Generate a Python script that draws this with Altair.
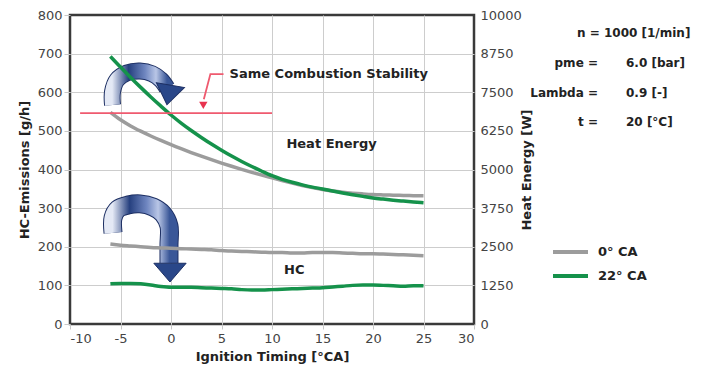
import altair as alt
import pandas as pd

# ---------------- data ----------------
timing = list(range(-6, 26))
heat_0ca = [6850, 6610, 6410, 6240, 6085, 5940, 5802, 5672, 5548, 5430, 5317, 5209,
            5105, 5005, 4909, 4817, 4730, 4642, 4560, 4484, 4414, 4350, 4302, 4264,
            4234, 4210, 4190, 4178, 4168, 4160, 4154, 4150]
heat_22ca = [8660, 8315, 7980, 7658, 7348, 7050, 6763, 6503, 6263, 6038, 5824, 5625,
             5435, 5260, 5097, 4943, 4800, 4682, 4586, 4502, 4430, 4370, 4304, 4242,
             4185, 4131, 4080, 4042, 4008, 3978, 3950, 3925]
hc_0ca = [207, 204, 202, 200, 198, 197, 196, 195, 194, 193, 192, 190, 189, 188, 187, 186,
          185, 185, 184, 184, 185, 185, 185, 184, 183, 182, 182, 181, 180, 179, 178, 177]
hc_22ca = [104, 105, 105, 104, 101, 97, 95, 95, 95, 94, 93, 92, 91, 89, 88, 88,
           89, 90, 91, 92, 93, 94, 96, 98, 100, 101, 101, 100, 99, 98, 99, 99]

series_names = ["0° CA", "22° CA"]
series_colors = ["#9c9c9c", "#15924b"]

x_ticks = list(range(-10, 31, 5))
hc_ticks = list(range(0, 801, 100))
heat_ticks = list(range(0, 10001, 1250))

# annotations (data units of the left axis)
stab_x = [-9, 10]
stab_y = [546, 546]
callout_x = [5.2, 3.9, 3.25]
callout_y = [647, 647, 582]
callout_head_x = [3.2]
callout_head_y = [566]
stab_label = "Same Combustion Stability"
stab_label_x = [5.8]
stab_label_y = [648]
heat_label = "Heat Energy"
heat_label_x = [15.9]
heat_label_y = [466]
hc_label = "HC"
hc_label_x = [12.2]
hc_label_y = [140]

arrow1_x = [-5.79, -5.79, -5.35, -4.36, -3.07, -1.88, -0.99, -0.40]
arrow1_y = [567, 601, 632, 650, 655, 648, 632, 611]
arrow1_head_x = [-0.23]
arrow1_head_y = [593]
arrow2_x = [-5.74, -5.74, -5.25, -4.26, -3.07, -1.78, -0.79, -0.2, -0.2, -0.2]
arrow2_y = [236, 275, 298, 308, 311, 303, 285, 254, 205, 158]
arrow2_head_x = [-0.1]
arrow2_head_y = [133]

param_names = ["pme =", "Lambda =", "t ="]
param_values = ["6.0 [bar]", "0.9 [-]", "20 [°C]"]
speed_text = "n = 1000 [1/min]"

# ---------------- tables ----------------
n = len(timing)
heat_df = pd.DataFrame({"x": timing * 2, "v": heat_0ca + heat_22ca,
                        "s": [series_names[0]] * n + [series_names[1]] * n})
hc_df = pd.DataFrame({"x": timing * 2, "v": hc_0ca + hc_22ca,
                      "s": [series_names[0]] * n + [series_names[1]] * n})

W, H = 404, 309
FONT = "DejaVu Sans"
GRID = "#cdcdcd"
xs = alt.Scale(domain=[-10, 30], nice=False, zero=False)
ys_hc = alt.Scale(domain=[0, 800], nice=False)
ys_heat = alt.Scale(domain=[0, 10000], nice=False)
cscale = alt.Scale(domain=series_names, range=series_colors)

x_axis = alt.Axis(values=x_ticks, labelExpr="'' + datum.value",
                  title="Ignition Timing [°CA]", grid=True,
                  gridColor=GRID, gridWidth=1,
                  gridOpacity={"expr": "datum.value == -10 || datum.value == 30 ? 0 : 1"},
                  domain=False, tickColor="#c8c8c8", tickSize=5,
                  labelFontSize=13, labelColor="#444", labelPadding=3,
                  titleFontSize=13, titleFontWeight="bold", titleColor="#222",
                  titlePadding=5)
hc_axis = alt.Axis(values=hc_ticks, format="d", title="HC-Emissions [g/h]", grid=True,
                   gridColor=GRID, gridWidth=1,
                   gridOpacity={"expr": "datum.value == 0 || datum.value == 800 ? 0 : 1"},
                   domain=False, tickColor="#c8c8c8", tickSize=6,
                   labelFontSize=13, labelColor="#444", labelPadding=2,
                   titleFontSize=13, titleFontWeight="bold", titleColor="#222",
                   titlePadding=6, orient="left")
heat_axis = alt.Axis(values=heat_ticks, format="d", title="Heat Energy [W]", grid=False,
                     domain=False, ticks=False, labelPadding=6,
                     labelFontSize=13, labelColor="#444",
                     titleFontSize=13, titleFontWeight="bold", titleColor="#222",
                     titleAngle=270, titlePadding=12, orient="right")


def xenc():
    return alt.X("x:Q", scale=xs, axis=x_axis)


def yann():
    return alt.Y("y:Q", scale=ys_hc, axis=None)


# invisible carriers for the y axes (drawn first)
hc_axes = alt.Chart(hc_df).mark_line(strokeOpacity=0).encode(
    x=xenc(), y=alt.Y("v:Q", scale=ys_hc, axis=hc_axis), detail="s:N")
heat_axes = alt.Chart(heat_df).mark_line(strokeOpacity=0).encode(
    x=xenc(), y=alt.Y("v:Q", scale=ys_heat, axis=heat_axis), detail="s:N")

hc_layer = alt.Chart(hc_df).mark_line(strokeWidth=3.5, interpolate="monotone").encode(
    x=xenc(),
    y=alt.Y("v:Q", scale=ys_hc, axis=None),
    color=alt.Color("s:N", scale=cscale, legend=None),
    detail="s:N",
)
heat_layer = alt.Chart(heat_df).mark_line(strokeWidth=3.5, interpolate="monotone").encode(
    x=xenc(),
    y=alt.Y("v:Q", scale=ys_heat, axis=None),
    color=alt.Color("s:N", scale=cscale, legend=None),
    detail="s:N",
)

# arrows
grad1 = alt.LinearGradient(gradient="linear", x1=0, x2=1, y1=0, y2=0, stops=[
    alt.GradientStop(color="#e4e9f5", offset=0),
    alt.GradientStop(color="#26407f", offset=0.3),
    alt.GradientStop(color="#6f86c0", offset=0.6),
    alt.GradientStop(color="#b9c6e6", offset=0.8),
    alt.GradientStop(color="#3a5798", offset=1),
])


def arrow(xv, yv, hx, hy, width, shape, angle):
    df = pd.DataFrame({"x": xv, "y": yv, "i": list(range(len(xv)))})
    outline = alt.Chart(df).mark_line(color="#1d2f63", strokeWidth=width + 2,
                                      interpolate="catmull-rom", strokeCap="butt").encode(
        x=xenc(), y=yann(), order="i:Q")
    body = alt.Chart(df).mark_line(color=grad1, strokeWidth=width,
                                   interpolate="catmull-rom", strokeCap="butt").encode(
        x=xenc(), y=yann(), order="i:Q")
    hdf = pd.DataFrame({"x": hx, "y": hy})
    head = alt.Chart(hdf).mark_point(shape=shape, filled=True, size=(width * 1.9) ** 2,
                                     color="#2a4789", stroke="#1d2f63", strokeWidth=1,
                                     opacity=1, angle=angle).encode(x=xenc(), y=yann())
    return [outline, body, head]


arrow1 = arrow(arrow1_x, arrow1_y, arrow1_head_x, arrow1_head_y, 15,
               "M-1,-0.7L1,-0.7L0,0.7Z", 10)
arrow2 = arrow(arrow2_x, arrow2_y, arrow2_head_x, arrow2_head_y, 17,
               "M-1,-0.58L1,-0.58L0,0.58Z", 0)

# red stability line + callout
stab = alt.Chart(pd.DataFrame({"x": stab_x, "y": stab_y})).mark_line(
    color="#ef5a6f", strokeWidth=1.8).encode(x=xenc(), y=yann())
callout = alt.Chart(pd.DataFrame({"x": callout_x, "y": callout_y,
                                  "i": list(range(len(callout_x)))})).mark_line(
    color="#ef5a6f", strokeWidth=1.8).encode(x=xenc(), y=yann(), order="i:Q")
callout_head = alt.Chart(pd.DataFrame({"x": callout_head_x, "y": callout_head_y})).mark_point(
    shape="triangle-down", filled=True, size=70, color="#e8334f", opacity=1).encode(
    x=xenc(), y=yann())


def label(txt, xv, yv, align="left"):
    return alt.Chart(pd.DataFrame({"x": xv, "y": yv, "t": [txt]})).mark_text(
        align=align, baseline="middle", fontSize=13, fontWeight="bold", color="#222",
        font=FONT).encode(x=xenc(), y=yann(), text="t:N")


lab_stab = label(stab_label, stab_label_x, stab_label_y)
lab_heat = label(heat_label, heat_label_x, heat_label_y, "center")
lab_hc = label(hc_label, hc_label_x, hc_label_y, "center")

# parameter block (outside the plot, right side)
one = pd.DataFrame({"k": [0]})
speed = alt.Chart(one).mark_text(align="left", baseline="alphabetic", fontSize=12,
                                 fontWeight="bold", color="#222", font=FONT,
                                 text=speed_text).encode(x=alt.value(507), y=alt.value(22))
names = alt.Chart(one).mark_text(align="right", baseline="alphabetic", fontSize=12,
                                 fontWeight="bold", color="#222", font=FONT, lineBreak="\n",
                                 lineHeight=29.5, text="\n".join(param_names)).encode(
    x=alt.value(528), y=alt.value(52))
vals = alt.Chart(one).mark_text(align="left", baseline="alphabetic", fontSize=12,
                                fontWeight="bold", color="#222", font=FONT, lineBreak="\n",
                                lineHeight=29.5, text="\n".join(param_values)).encode(
    x=alt.value(556), y=alt.value(52))

# manual legend
leg = []
for k, (nm, col) in enumerate(zip(series_names, series_colors)):
    yy = 237 + 24 * k
    leg.append(alt.Chart(one).mark_rule(color=col, strokeWidth=4).encode(
        x=alt.value(483), x2=alt.value(518), y=alt.value(yy)))
    leg.append(alt.Chart(one).mark_text(align="left", baseline="middle", fontSize=13,
                                        fontWeight="bold", color="#222", font=FONT,
                                        text=nm).encode(x=alt.value(528), y=alt.value(yy)))

layers = [hc_axes, heat_axes] + arrow1 + arrow2 + [
    hc_layer, heat_layer, stab, callout, callout_head,
    lab_stab, lab_heat, lab_hc, speed, names, vals] + leg

chart = alt.layer(*layers).resolve_scale(y="independent").properties(
    width=W, height=H,
    autosize=alt.AutoSizeParams(type="none"),
    padding={"left": 70, "top": 15, "right": 704 - 70 - W, "bottom": 374 - 15 - H},
    background="white",
).configure(font=FONT).configure_view(stroke="#3a3a3a", strokeWidth=2.5)

chart.save("out.html", embed_options={"renderer": "svg", "actions": False})
